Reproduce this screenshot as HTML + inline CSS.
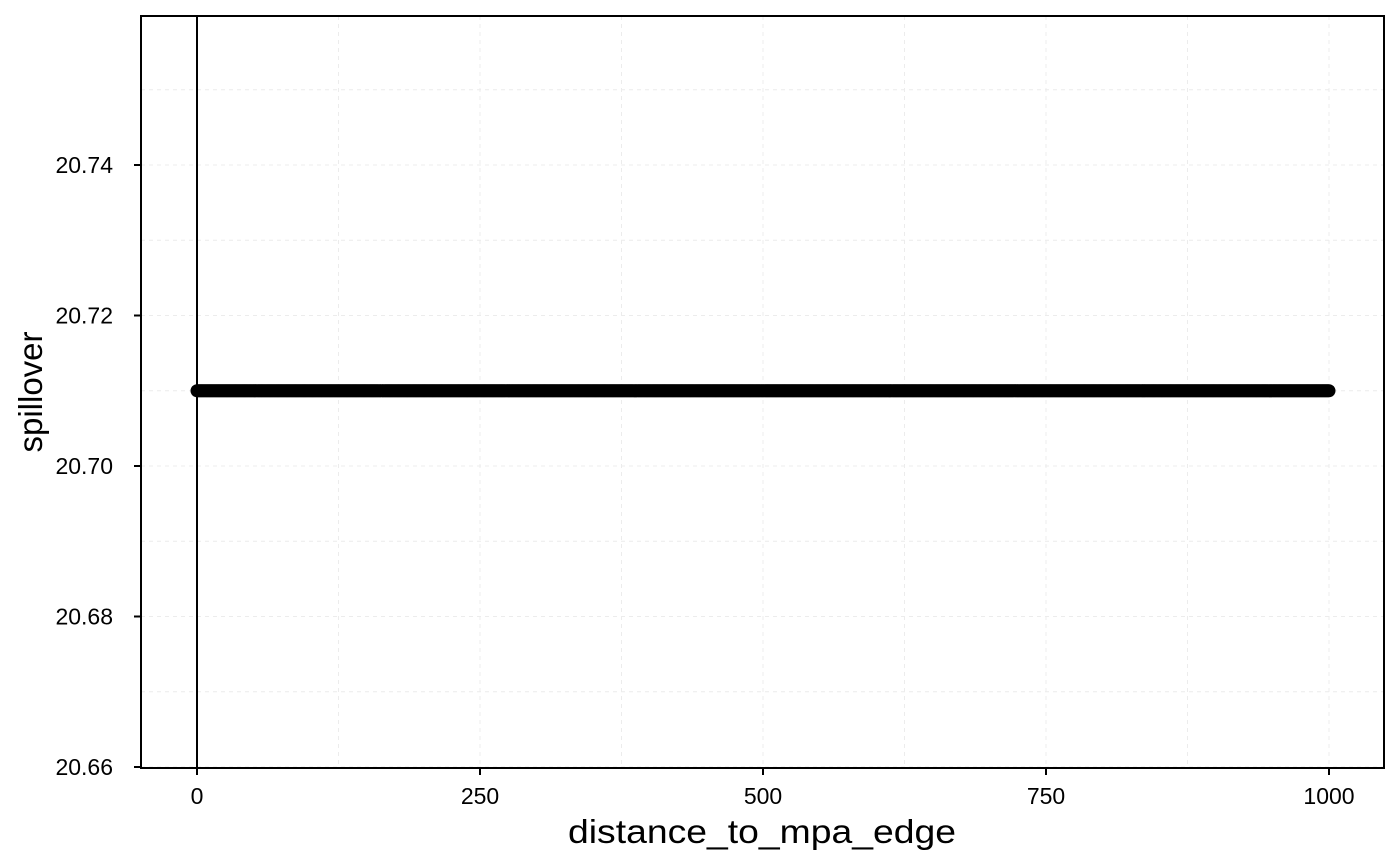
<!DOCTYPE html>
<html><head><meta charset="utf-8"><style>
body{margin:0;background:#fff}
svg{display:block;font-family:"Liberation Sans",Arial,sans-serif}
</style></head><body>
<svg id="chart" width="1400" height="865" viewBox="0 0 1400 865" xmlns="http://www.w3.org/2000/svg">
<rect x="0" y="0" width="1400" height="865" fill="#fff"/>
<g id="grid"></g>
<g id="marks"></g>
<g id="axes"></g>
<rect x="141" y="16" width="1243" height="752" fill="none" stroke="#000" stroke-width="2"/>
<text x="762" y="843" font-size="33" text-anchor="middle" textLength="388" lengthAdjust="spacingAndGlyphs">distance_to_mpa_edge</text>
<text transform="translate(42,392) rotate(-90)" font-size="33" text-anchor="middle">spillover</text>
</svg>
<script>
const xTicks = [0, 250, 500, 750, 1000];
const xTickLabels = ["0", "250", "500", "750", "1000"];
const yTicks = [20.66, 20.68, 20.70, 20.72, 20.74];
const yTickLabels = ["20.66", "20.68", "20.70", "20.72", "20.74"];
const distances = [];
for (let d = 0; d <= 1000; d += 1) distances.push(d);
const spillover = distances.map(() => 20.71);

const X0 = 197, X1 = 1329;
const xs = v => X0 + (v - 0) / 1000 * (X1 - X0);
const ys = v => 466 - (v - 20.70) / 0.02 * 150.5;
const NS = "http://www.w3.org/2000/svg";
function mk(tag, attrs, parent) {
  const e = document.createElementNS(NS, tag);
  for (const k in attrs) e.setAttribute(k, attrs[k]);
  parent.appendChild(e);
  return e;
}
const grid = document.getElementById('grid');
const marks = document.getElementById('marks');
const axes = document.getElementById('axes');
const xg = [];
for (let i = 0; i < xTicks.length; i++) { xg.push(xTicks[i]); if (i < xTicks.length - 1) xg.push((xTicks[i] + xTicks[i+1]) / 2); }
xg.forEach(v => {
  const x = xs(v);
  const l = mk('line', {x1: x, x2: x, y1: 16, y2: 768, stroke: '#ececec', 'stroke-width': 1, 'stroke-dasharray': '4,4'}, grid);
  
  
});
const yg = [];
for (let i = 0; i < yTicks.length; i++) { yg.push(yTicks[i]); yg.push(yTicks[i] + 0.01); }
yg.forEach(v => {
  const y = ys(v);
  if (y < 16 || y > 768) return;
  const l = mk('line', {x1: 141, x2: 1384, y1: y, y2: y, stroke: '#ececec', 'stroke-width': 1, 'stroke-dasharray': '4,4'}, grid);
  
  
});
const vl = mk('line', {x1: xs(0), x2: xs(0), y1: 16, y2: 768, stroke: '#000', 'stroke-width': 2}, marks);


distances.forEach((d, i) => {
  const c = mk('circle', {cx: xs(d), cy: ys(spillover[i]), r: 6.5, fill: '#000'}, marks);
  
  
});
xTicks.forEach((v, i) => {
  const x = xs(v);
  mk('line', {x1: x, x2: x, y1: 768, y2: 775, stroke: '#000', 'stroke-width': 2}, axes);
  const t = mk('text', {x: x, y: 804, 'font-size': 23, 'text-anchor': 'middle', fill: '#000'}, axes);
  t.textContent = xTickLabels[i];
  
  
});
yTicks.forEach((v, i) => {
  const y = ys(v);
  mk('line', {x1: 134, x2: 141, y1: y, y2: y, stroke: '#000', 'stroke-width': 2}, axes);
  const t = mk('text', {x: 113, y: y + 8, 'font-size': 23, 'text-anchor': 'end', fill: '#000'}, axes);
  t.textContent = yTickLabels[i];
  
  
});
</script>
</body></html>
